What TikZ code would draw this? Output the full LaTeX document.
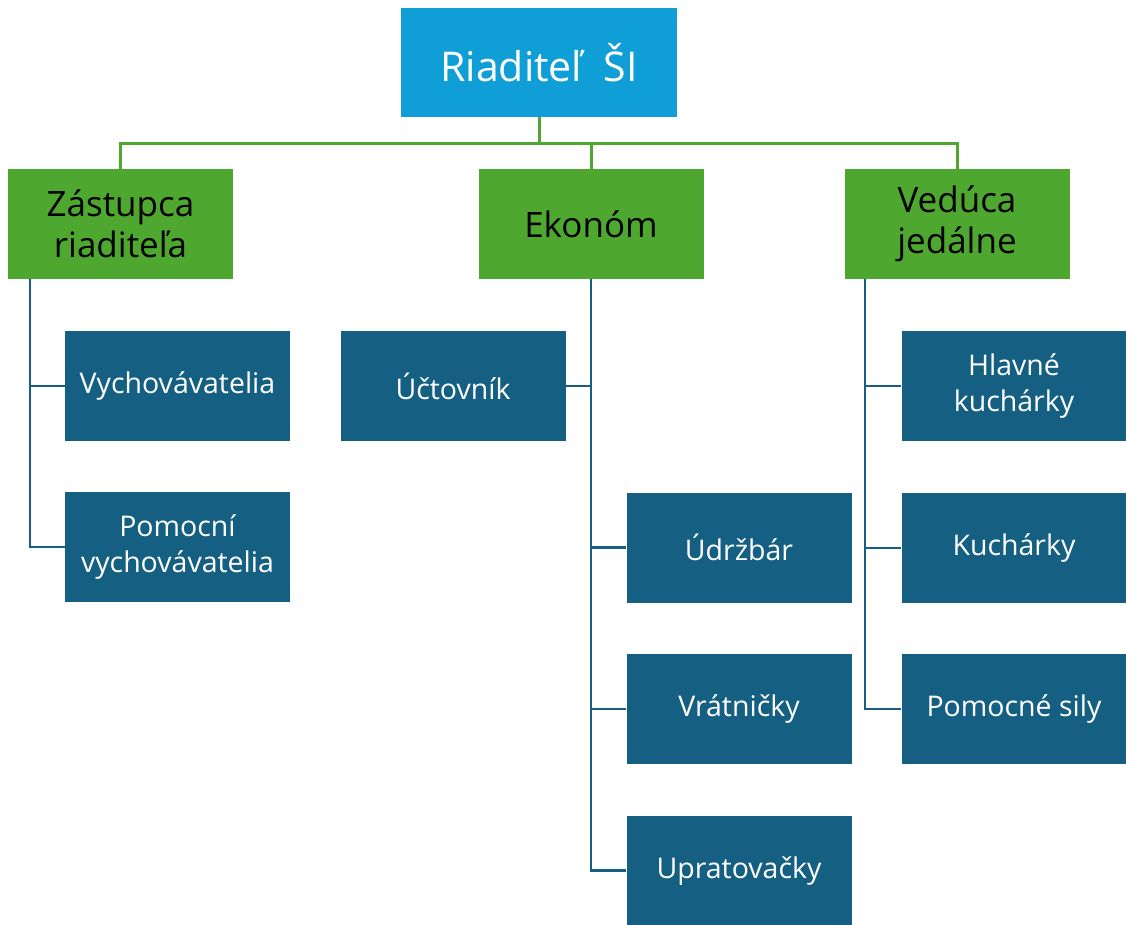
\documentclass[tikz,border=0pt]{standalone}
\usepackage{fontspec}
\setmainfont{Open Sans}
\usetikzlibrary{positioning}

\definecolor{headblue}{HTML}{0F9ED5}
\definecolor{leadgreen}{HTML}{4EA72E}
\definecolor{staffblue}{HTML}{156082}

\tikzset{
  every box/.style={rectangle, minimum width=225pt, minimum height=110pt,
    inner sep=0pt, align=center},
  head box/.style={every box, fill=headblue, text=white, minimum width=276pt,
    minimum height=109pt, font=\fontsize{41}{48}\selectfont},
  lead box/.style={every box, fill=leadgreen, text=black,
    font=\fontsize{35}{41}\selectfont},
  staff box/.style={every box, fill=staffblue, text=white,
    font=\fontsize{28.5}{36}\selectfont},
  green line/.style={draw=leadgreen, line width=3pt},
  blue line/.style={draw=staffblue, line width=2.2pt}
}

\begin{document}
\begin{tikzpicture}[x=1pt, y=-1pt]

  \useasboundingbox (0,0) rectangle (1126,924);

  \node [head box] (head) at (539,62.5) {Riaditeľ\ \ ŠI};

  \foreach \m/\x/\l in {deputy/120.5/{Zástupca\\riaditeľa},
                        economist/591/Ekonóm,
                        canteen/957/{Vedúca\\jedálne}}
  \node [lead box] (\m) at (\x,224) {\l};

  \foreach \m/\l [count=\y] in {educators/Vychovávatelia,
                                assistants/{Pomocní\\vychovávatelia}}
  \node [staff box] (\m) at (177.5,225+\y*161) {\l};

  \node [staff box] (accountant) at (453,386) {Účtovník};

  \foreach \m/\l [count=\y] in {caretaker/Údržbár,
                                porters/Vrátničky,
                                cleaners/Upratovačky}
  \node [staff box] (\m) at (739,386+\y*161.5) {\l};

  \foreach \m/\l [count=\y] in {headcooks/{Hlavné\\kuchárky},
                                cooks/Kuchárky,
                                helpers/Pomocné sily}
  \node [staff box] (\m) at (1014,225+\y*161.3) {\l};

  % green connectors
  \coordinate (bus) at ([yshift=-26.5pt]head.south);
  \draw [green line] (head.south) -- (bus);
  \foreach \m in {deputy,economist,canteen}
  \draw [green line] (bus) -| (\m.north);

  % blue connectors
  \coordinate (deputy spine) at ([xshift=22pt]deputy.south west);
  \coordinate (canteen spine) at ([xshift=21pt]canteen.south west);

  \foreach \m in {educators,assistants}
  \draw [blue line] (deputy spine) |- (\m.west);

  \draw [blue line] (economist.south) |- (accountant.east);
  \foreach \m in {caretaker,porters,cleaners}
  \draw [blue line] (economist.south) |- (\m.west);

  \foreach \m in {headcooks,cooks,helpers}
  \draw [blue line] (canteen spine) |- (\m.west);

\end{tikzpicture}
\end{document}
